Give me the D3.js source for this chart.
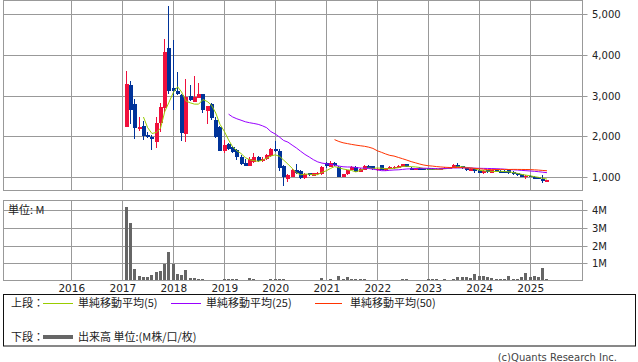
<!DOCTYPE html>
<html>
<head>
<meta charset="utf-8">
<script src="https://cdn.jsdelivr.net/npm/d3@7"></script>
<style>
  body { margin: 0; background: #fff; }
  svg { display: block; }
</style>
</head>
<body>
<div id="mydiv"></div>
<script>
// monthly candles, Feb 2017 - May 2025
const months = [
  "2017-02","2017-03","2017-04","2017-05","2017-06","2017-07","2017-08","2017-09","2017-10","2017-11","2017-12",
  "2018-01","2018-02","2018-03","2018-04","2018-05","2018-06","2018-07","2018-08","2018-09","2018-10","2018-11","2018-12",
  "2019-01","2019-02","2019-03","2019-04","2019-05","2019-06","2019-07","2019-08","2019-09","2019-10","2019-11","2019-12",
  "2020-01","2020-02","2020-03","2020-04","2020-05","2020-06","2020-07","2020-08","2020-09","2020-10","2020-11","2020-12",
  "2021-01","2021-02","2021-03","2021-04","2021-05","2021-06","2021-07","2021-08","2021-09","2021-10","2021-11","2021-12",
  "2022-01","2022-02","2022-03","2022-04","2022-05","2022-06","2022-07","2022-08","2022-09","2022-10","2022-11","2022-12",
  "2023-01","2023-02","2023-03","2023-04","2023-05","2023-06","2023-07","2023-08","2023-09","2023-10","2023-11","2023-12",
  "2024-01","2024-02","2024-03","2024-04","2024-05","2024-06","2024-07","2024-08","2024-09","2024-10","2024-11","2024-12",
  "2025-01","2025-02","2025-03","2025-04","2025-05"
];
const open = [
  2236,3261,2794,2180,2254,2032,1991,1868,2320,2689,4178,
  3180,3121,3016,2057,2990,2843,2950,3033,2630,2794,2400,2236,
  1646,1811,1730,1664,1484,1350,1278,1376,1484,1400,1442,1524,
  1688,1646,1278,950,1007,1172,1155,968,1090,1032,1090,1066,
  1340,1253,1350,1253,1007,1066,1172,1253,1130,1172,1270,1270,
  1190,1290,1170,1210,1220,1240,1250,1320,1230,1170,1220,1210,
  1210,1200,1190,1200,1220,1230,1240,1290,1260,1220,1150,1200,
  1170,1105,1160,1110,1160,1140,1140,1170,1130,1090,1066,990,
  1025,1010,1000,960,890
];
const high = [
  3613,3367,2910,2467,2384,2113,2032,2482,2812,4392,5210,
  4367,3588,3030,3409,3261,3483,3318,3050,2745,2820,2475,2260,
  1909,1840,1760,1680,1540,1450,1480,1582,1520,1480,1560,1720,
  1892,1690,1300,1074,1190,1320,1180,1100,1110,1110,1130,1270,
  1380,1400,1370,1280,1080,1180,1270,1260,1220,1290,1300,1280,
  1220,1300,1230,1260,1270,1290,1330,1330,1240,1230,1240,1230,
  1230,1220,1220,1230,1240,1250,1330,1350,1280,1230,1210,1210,
  1190,1170,1180,1170,1180,1160,1160,1180,1150,1100,1080,1060,
  1050,1030,1010,1049,930
];
const low = [
  2236,2303,1927,2138,1909,1951,1664,1720,2113,2605,3050,
  2647,3016,1892,1868,2868,2843,2950,2580,2303,2400,1960,1630,
  1582,1660,1600,1420,1290,1260,1260,1350,1380,1380,1420,1500,
  1620,1150,786,880,990,1080,950,950,1020,1020,1060,1050,
  1230,1240,1280,990,990,1050,1160,1120,1120,1160,1230,1180,
  1150,1160,1150,1190,1200,1220,1240,1240,1170,1160,1190,1180,
  1170,1170,1180,1190,1200,1210,1230,1250,1200,1140,1140,1100,
  1090,1080,1100,1100,1120,1110,1100,1080,1050,1030,990,960,
  990,950,950,845,880
];
const close = [
  3286,2647,2197,2236,2008,1976,1927,2335,2728,4080,3121,
  3125,3040,2089,2974,2893,2966,3033,2647,2745,2450,1991,1646,
  1786,1688,1622,1484,1312,1278,1435,1499,1400,1450,1540,1688,
  1646,1216,993,1049,1172,1090,968,1074,1049,1090,1110,1253,
  1260,1350,1300,1007,1066,1172,1253,1130,1200,1270,1250,1190,
  1200,1170,1210,1240,1250,1270,1320,1250,1180,1220,1200,1190,
  1180,1180,1200,1220,1230,1240,1290,1270,1220,1160,1200,1150,
  1105,1150,1120,1160,1140,1130,1120,1090,1066,1040,1007,1025,
  1010,960,955,890,926
];
// volume, millions
const volume = [
  4.19,3.29,0.68,0.29,0.21,0.21,0.34,0.52,0.57,0.96,1.64,
  0.98,0.39,0.34,0.62,0.18,0.18,0.12,0.12,0.06,0.06,0.04,0.04,
  0.10,0.12,0.12,0.10,0.05,0.05,0.19,0.13,0.05,0.05,0.05,0.10,
  0.12,0.12,0.12,0.05,0.05,0.05,0.04,0.04,0.04,0.04,0.06,0.19,
  0.08,0.13,0.08,0.30,0.10,0.23,0.14,0.12,0.12,0.10,0.06,0.06,
  0.06,0.08,0.06,0.06,0.08,0.06,0.13,0.14,0.06,0.06,0.06,0.08,
  0.14,0.12,0.10,0.06,0.10,0.08,0.12,0.20,0.20,0.23,0.17,0.40,
  0.29,0.29,0.23,0.16,0.12,0.10,0.14,0.29,0.14,0.14,0.20,0.44,
  0.25,0.30,0.25,0.75,0.12
];
const priceTicks = [1000, 2000, 3000, 4000, 5000];
const volTicks = [1, 2, 3, 4];
const years = [2016, 2017, 2018, 2019, 2020, 2021, 2022, 2023, 2024, 2025];
const maPeriods = [5, 25, 50];
const maColors = ["#99cc00", "#9900ff", "#ff3300"];

const W = 638, H = 362;
const L = 3.5, R = 582.5;
const parse = d3.timeParse("%Y-%m");

const rows = months.map((m, i) => ({
  date: parse(m), o: open[i], h: high[i], l: low[i], c: close[i], v: volume[i]
}));

const svg = d3.select("#mydiv").append("svg")
  .attr("width", W).attr("height", H)
  .style("font-family", "'DejaVu Sans', sans-serif");

const x = d3.scaleTime()
  .domain([new Date(2014, 8, 6), new Date(2026, 0, 14)])
  .range([L, R]);
const y = d3.scaleLinear().domain([1000, 5000]).range([177, 14.3]);
const yv = d3.scaleLinear().domain([0, 4]).range([281, 210]);

const crisp = v => Math.round(v) + 0.5;
const gridCol = "#999";

// ---- upper panel
const pTop = { y0: 0.5, y1: 190.5 };
const gTop = svg.append("g");
gTop.append("clipPath").attr("id", "clipTop").append("rect")
  .attr("x", L).attr("y", pTop.y0).attr("width", R - L).attr("height", pTop.y1 - pTop.y0);

gTop.selectAll(".hgrid").data(priceTicks).enter().append("line")
  .attr("x1", L).attr("x2", R + 5)
  .attr("y1", d => crisp(y(d))).attr("y2", d => crisp(y(d)))
  .attr("stroke", gridCol);
gTop.selectAll(".vgrid").data(years).enter().append("line")
  .attr("x1", d => crisp(x(new Date(d, 0, 1)))).attr("x2", d => crisp(x(new Date(d, 0, 1))))
  .attr("y1", pTop.y0).attr("y2", pTop.y1)
  .attr("stroke", gridCol);
gTop.append("rect")
  .attr("x", L).attr("y", pTop.y0).attr("width", R - L).attr("height", pTop.y1 - pTop.y0)
  .attr("fill", "none").attr("stroke", gridCol);

gTop.selectAll(".plab").data(priceTicks).enter().append("text")
  .attr("x", 592).attr("y", d => y(d) + 4)
  .attr("font-size", "10px").attr("fill", "#222")
  .text(d => d3.format(",")(d));

const plot = gTop.append("g").attr("clip-path", "url(#clipTop)");

// candles
const up = "#f0103c", down = "#003399";
const cg = plot.selectAll(".candle").data(rows).enter().append("g");
cg.append("line")
  .attr("x1", d => Math.round(x(d.date)) + 0.5).attr("x2", d => Math.round(x(d.date)) + 0.5)
  .attr("y1", d => y(d.h)).attr("y2", d => y(d.l))
  .attr("stroke", d => d.c >= d.o ? up : down).attr("stroke-width", 1)
  .attr("shape-rendering", "crispEdges");
cg.append("rect")
  .attr("x", d => Math.round(x(d.date)) - 1)
  .attr("width", 4)
  .attr("y", d => y(Math.max(d.o, d.c)))
  .attr("height", d => Math.max(1.5, Math.abs(y(d.o) - y(d.c))))
  .attr("fill", d => d.c >= d.o ? up : down)
  .attr("shape-rendering", "crispEdges");

// moving averages of the closes
maPeriods.forEach((n, k) => {
  const ma = rows.map((d, i) => i < n - 1 ? null :
    { date: d.date, v: d3.mean(close.slice(i - n + 1, i + 1)) }).filter(d => d);
  plot.append("path").datum(ma)
    .attr("fill", "none").attr("stroke", maColors[k]).attr("stroke-width", 1)
    .attr("d", d3.line().x(d => x(d.date) + 0.5).y(d => y(d.v)));
});

// ---- volume panel
const pBot = { y0: 200.5, y1: 280.5 };
const gBot = svg.append("g");
gBot.selectAll(".hgrid").data(volTicks).enter().append("line")
  .attr("x1", L).attr("x2", R + 5)
  .attr("y1", d => crisp(yv(d))).attr("y2", d => crisp(yv(d)))
  .attr("stroke", gridCol);
gBot.selectAll(".vgrid").data(years).enter().append("line")
  .attr("x1", d => crisp(x(new Date(d, 0, 1)))).attr("x2", d => crisp(x(new Date(d, 0, 1))))
  .attr("y1", pBot.y0).attr("y2", pBot.y1)
  .attr("stroke", gridCol);

gBot.selectAll(".bar").data(rows).enter().append("rect")
  .attr("x", d => Math.round(x(d.date)) - 1)
  .attr("width", 3)
  .attr("y", d => yv(d.v))
  .attr("height", d => Math.max(0, pBot.y1 - yv(d.v)))
  .attr("fill", "#666")
  .attr("shape-rendering", "crispEdges");

gBot.append("rect")
  .attr("x", L).attr("y", pBot.y0).attr("width", R - L).attr("height", pBot.y1 - pBot.y0)
  .attr("fill", "none").attr("stroke", gridCol);

gBot.selectAll(".vlab").data(volTicks).enter().append("text")
  .attr("x", 592).attr("y", d => yv(d) + 4)
  .attr("font-size", "10px").attr("fill", "#222")
  .text(d => d + "M");

gBot.append("text")
  .attr("x", 8).attr("y", 214)
  .attr("font-size", "11px").attr("fill", "#222")
  .style("font-family", "'Noto Sans CJK JP', sans-serif")
  .text("単位: M");

svg.selectAll(".ylab").data(years).enter().append("text")
  .attr("x", d => x(new Date(d, 0, 1)) + 1).attr("y", 292)
  .attr("text-anchor", "middle")
  .attr("font-size", "10.5px").attr("fill", "#222")
  .text(d => d);

// ---- legend
const lg = svg.append("g").style("font-family", "'Noto Sans CJK JP', sans-serif")
  .attr("font-size", "11px").attr("fill", "#222");
lg.append("rect").attr("x", 3.5).attr("y", 294.5).attr("width", 632).attr("height", 51.5)
  .attr("fill", "#fff").attr("stroke", "#111");
lg.append("text").attr("x", 11).attr("y", 307).text("上段：");
const legItems = [
  { x1: 43, x2: 73, tx: 78, label: "単純移動平均(5)" },
  { x1: 171, x2: 201, tx: 206, label: "単純移動平均(25)" },
  { x1: 315, x2: 342, tx: 350, label: "単純移動平均(50)" }
];
legItems.forEach((d, k) => {
  lg.append("line").attr("x1", d.x1).attr("x2", d.x2).attr("y1", 303.5).attr("y2", 303.5)
    .attr("stroke", maColors[k]).attr("stroke-width", 1);
  lg.append("text").attr("x", d.tx).attr("y", 307).text(d.label);
});
lg.append("text").attr("x", 11).attr("y", 341).text("下段：");
lg.append("line").attr("x1", 43).attr("x2", 73).attr("y1", 337).attr("y2", 337)
  .attr("stroke", "#666").attr("stroke-width", 4);
lg.append("text").attr("x", 78).attr("y", 341).text("出来高 単位:(M株/口/枚)");

svg.append("text")
  .attr("x", 617).attr("y", 361).attr("text-anchor", "end")
  .attr("font-size", "10px").attr("fill", "#444")
  .text("(c)Quants Research Inc.");
</script>
</body>
</html>
